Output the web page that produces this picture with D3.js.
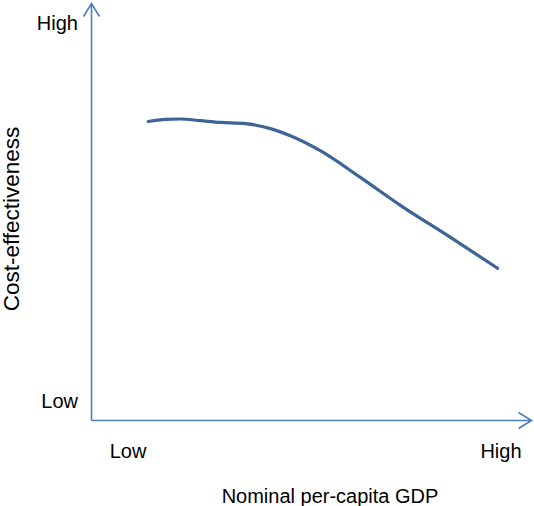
<!DOCTYPE html>
<html><head>
<meta charset="utf-8">
<script src="https://d3js.org/d3.v7.min.js"></script>
<style>
  body { margin: 0; background: #fff; }
  text { font-family: "Liberation Sans", Arial, sans-serif; fill: #000; }
</style>
</head>
<body>
<svg id="chart" width="534" height="506"></svg>
<script>
  // curve, in 0-100 units on both axes
  const gdp = [12.9, 16.8, 20.2, 24.8, 29.3, 35.0, 40.7, 45.2, 52.0, 61.1, 70.2, 81.6, 92.3];
  const costEff = [71.7, 72.2, 72.3, 71.9, 71.5, 71.2, 70.0, 68.3, 64.7, 58.3, 51.6, 43.9, 36.5];
  const levelLabels = ["Low", "High"];
  const xTitle = "Nominal per-capita GDP";
  const yTitle = "Cost-effectiveness";

  const svg = d3.select("#chart");
  const axisColor = "#4a7ebb";

  const x = d3.scaleLinear().domain([0, 100]).range([91.5, 531.5]);
  const y = d3.scaleLinear().domain([0, 100]).range([420.5, 3.5]);

  // axes with open arrow heads
  svg.append("path")
    .attr("d", "M" + x(0) + "," + y(0) + "V" + y(100) + "M" + (x(0) - 8) + "," + (y(100) + 13) + "L" + x(0) + "," + y(100) + "L" + (x(0) + 8) + "," + (y(100) + 13))
    .attr("fill", "none").attr("stroke", axisColor).attr("stroke-width", 1.6);
  svg.append("path")
    .attr("d", "M" + x(0) + "," + y(0) + "H" + x(100) + "M" + (x(100) - 13) + "," + (y(0) - 8) + "L" + x(100) + "," + y(0) + "L" + (x(100) - 13) + "," + (y(0) + 8))
    .attr("fill", "none").attr("stroke", axisColor).attr("stroke-width", 1.6);

  const pts = gdp.map((g, i) => [g, costEff[i]]);
  const line = d3.line().x(d => x(d[0])).y(d => y(d[1])).curve(d3.curveMonotoneX);
  svg.append("path").datum(pts)
    .attr("d", line)
    .attr("fill", "none")
    .attr("stroke", "#3d6496")
    .attr("stroke-width", 3.2)
    .attr("stroke-linecap", "round");

  // y level labels
  svg.append("text").attr("x", 78).attr("y", 30).attr("text-anchor", "end")
    .style("font-size", "20px").text(levelLabels[1]);
  svg.append("text").attr("x", 78).attr("y", 408).attr("text-anchor", "end")
    .style("font-size", "20px").text(levelLabels[0]);
  // x level labels
  svg.append("text").attr("x", 128).attr("y", 458).attr("text-anchor", "middle")
    .style("font-size", "20px").text(levelLabels[0]);
  svg.append("text").attr("x", 501).attr("y", 458).attr("text-anchor", "middle")
    .style("font-size", "20px").text(levelLabels[1]);

  svg.append("text").attr("x", 330).attr("y", 503).attr("text-anchor", "middle")
    .style("font-size", "20px").text(xTitle);
  svg.append("text").attr("transform", "translate(19,219) rotate(-90)")
    .attr("text-anchor", "middle")
    .style("font-size", "22.5px").text(yTitle);
</script>
</body>
</html>
